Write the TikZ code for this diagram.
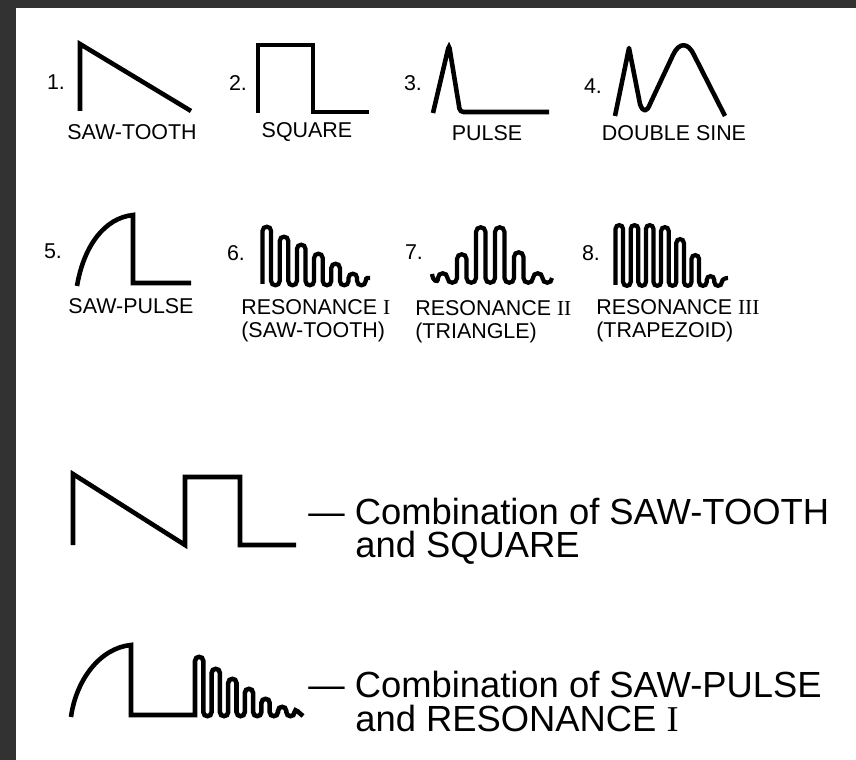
\documentclass[tikz,border=0pt]{standalone}
\usepackage{fontspec}
\setmainfont{Liberation Sans}
\newfontfamily\romfont{Liberation Serif}
\definecolor{frame}{RGB}{50,50,50}

\begin{document}
\begin{tikzpicture}[x=0.02cm, y=-0.02cm]
    \tikzstyle{wave}=[draw=black, line width=2.6pt]
    \tikzstyle{ripple}=[wave, line width=2.4pt]
    \tikzstyle{num}=[inner sep=0pt, font=\fontsize{12.2}{13}\selectfont]
    \tikzstyle{annot}=[num, align=left, anchor=north west]
    \tikzstyle{combo}=[inner sep=0pt, anchor=base west, font=\fontsize{20.7}{24}\selectfont]

    % dark frame on the top and left edge
    \fill[frame] (0,0) rectangle (856,760);
    \fill[white] (16,8) rectangle (856,760);
    \useasboundingbox (0,0) rectangle (856,760);

    % Draw the numbers
    \foreach \n/\x/\y in {1/56/82, 2/238/83, 3/413/83, 4/593/86, 5/53/251, 6/236/253, 7/414/252, 8/591/253}
        \node[num] (N-\n) at (\x,\y) {\n.};

    % first row of waves
    \draw[wave] (80,111) -- (80,44) -- (191,111);
    \draw[wave] (258,113) -- (258,45) -- (313,45) -- (313,112) -- (369,112);
    \draw[wave, rounded corners=2pt] (433,113) -- (449,45) -- (460,112) -- (549,112);
    \draw[wave, line join=round] (615,116) -- (629,48) -- (640,104) .. controls (643,113) and (647,112) .. (650,104)
        -- (673,55) .. controls (679,42) and (688,42) .. (694,55) -- (725,116);

    % second row: saw-pulse and the three resonances
    % (each loop: up, round top, down, round bottom)
    \draw[wave] (77,286) .. controls (84,245) and (105,218) .. (133,215) -- (133,283) -- (191,283);
    \draw[ripple] (262.5,284)
        \foreach \t [count=\k from 0] in {231,241,249,258,268,278} {
            -- ({262.5+\k*17.2},\t) .. controls +(0,-5.7) and +(0,-5.7) .. ({271.1+\k*17.2},\t)
            -- ({271.1+\k*17.2},281) .. controls +(0,5.7) and +(0,5.7) .. ({279.7+\k*17.2},281)
        } .. controls +(0,-4) and +(-2,0) .. (370,278);
    \draw[ripple] (432,274) .. controls +(0,6) and +(0,6.3) .. (438,278)
        \foreach \t [count=\k from 0] in {278,259,232,232,257,278} {
            -- ({438+\k*19},\t) .. controls +(0,-6.3) and +(0,-6.3) .. ({447.5+\k*19},\t)
            -- ({447.5+\k*19},278) .. controls +(0,6.3) and +(0,6.3) .. ({457+\k*19},278)
        };
    \draw[ripple] (615.5,285)
        \foreach \t [count=\k from 0] in {229,229,229,231,243,259,280} {
            -- ({615.5+\k*15.2},\t) .. controls +(0,-5.1) and +(0,-5.1) .. ({623.1+\k*15.2},\t)
            -- ({623.1+\k*15.2},282) .. controls +(0,5.1) and +(0,5.1) .. ({630.7+\k*15.2},282)
        } .. controls +(0,-3) and +(-2,0) .. (728,278);

    % Annotate the waves
    \node[num] (L-1) at (132,132) {SAW-TOOTH};
    \node[num] (L-2) at (307,132) {SQUARE};
    \node[num] (L-3) at (487,133) {PULSE};
    \node[num] (L-4) at (674,133) {DOUBLE SINE};
    \node[num] (L-5) at (131,306) {SAW-PULSE};
    \node[annot] (L-6) at (241,299) {RESONANCE {\romfont I}\\(SAW-TOOTH)};
    \node[annot] (L-7) at (415,300) {RESONANCE {\romfont II}\\(TRIANGLE)};
    \node[annot] (L-8) at (596,299) {RESONANCE {\romfont III}\\(TRAPEZOID)};

    % combined waves
    \draw[wave] (73,545) -- (73,474) -- (185,545) -- (185,477) -- (240,477) -- (240,545) -- (296,545);
    \draw[wave] (71,717) .. controls (76,680) and (100,648) .. (131,645) -- (131,715) -- (195,715)
        \foreach \t [count=\k from 0] in {661,673,683,693,703,711} {
            -- ({195+\k*16.6},\t) .. controls +(0,-5.5) and +(0,-5.5) .. ({203.3+\k*16.6},\t)
            -- ({203.3+\k*16.6},712) .. controls +(0,5.5) and +(0,5.5) .. ({211.6+\k*16.6},712)
        } .. controls +(0,-5) and +(-3,-2) .. (303,716);

    \node[combo] (C-1) at (308,524) {— Combination of SAW-TOOTH};
    \node[combo] (A-1) at (355,557) {and SQUARE};
    \node[combo] (C-2) at (308,697) {— Combination of SAW-PULSE};
    \node[combo] (A-2) at (355,731) {and RESONANCE {\romfont I}};
\end{tikzpicture}
\end{document}
